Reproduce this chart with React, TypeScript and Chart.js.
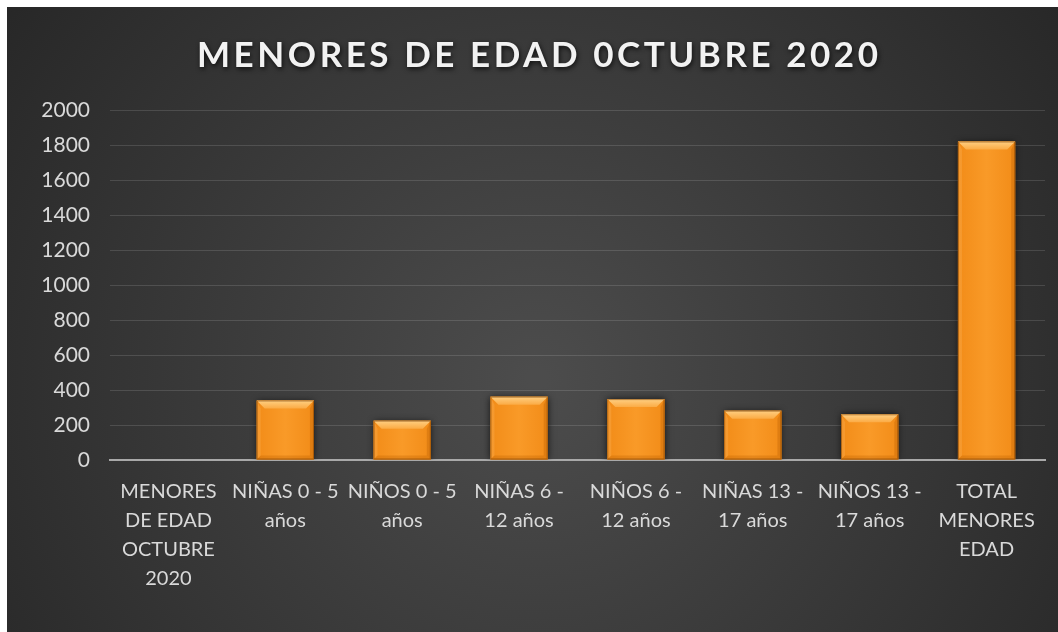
import React, { useEffect, useRef } from "react";
import { Chart, registerables } from "chart.js";

Chart.register(...registerables);

const TITLE = "MENORES DE EDAD 0CTUBRE 2020";

const categories: string[][] = [
  ["MENORES", "DE EDAD", "OCTUBRE", "2020"],
  ["NIÑAS 0 - 5", "años"],
  ["NIÑOS 0 - 5", "años"],
  ["NIÑAS 6 -", "12 años"],
  ["NIÑOS 6 -", "12 años"],
  ["NIÑAS 13 -", "17 años"],
  ["NIÑOS 13 -", "17 años"],
  ["TOTAL", "MENORES", "EDAD"],
];

const values: (number | null)[] = [null, 340, 225, 362, 348, 282, 261, 1820];

const yTicks = { min: 0, max: 2000, step: 200 };

const FONT = "Lato, 'Open Sans', sans-serif";

const bgPlugin = {
  id: "bgPlugin",
  beforeDraw(chart: any) {
    const { ctx, width, height } = chart;
    ctx.save();
    const g = ctx.createRadialGradient(
      width * 0.5,
      height * 0.58,
      10,
      width * 0.5,
      height * 0.58,
      width * 0.62
    );
    g.addColorStop(0, "#4c4c4c");
    g.addColorStop(1, "#272727");
    ctx.fillStyle = g;
    ctx.fillRect(0, 0, width, height);
    ctx.restore();
  },
};

const titlePlugin = {
  id: "titlePlugin",
  afterDraw(chart: any) {
    const { ctx } = chart;
    ctx.save();
    ctx.font = `bold 35px ${FONT}`;
    ctx.textBaseline = "alphabetic";
    ctx.textAlign = "left";
    (ctx as any).letterSpacing = "0px";
    const w0 = ctx.measureText(TITLE).width;
    const target = 681;
    const s = Math.max(0, (target - w0) / (TITLE.length - 1));
    (ctx as any).letterSpacing = `${s}px`;
    ctx.shadowColor = "rgba(0,0,0,0.75)";
    ctx.shadowBlur = 5;
    ctx.shadowOffsetX = 1;
    ctx.shadowOffsetY = 2;
    ctx.fillStyle = "#f2f2f2";
    ctx.fillText(TITLE, 530.5 - target / 2, 60);
    ctx.restore();
  },
};

const bevelPlugin = {
  id: "bevelPlugin",
  beforeDatasetsDraw(chart: any) {
    const ctx = chart.ctx;
    ctx.save();
    ctx.shadowColor = "rgba(0,0,0,0.7)";
    ctx.shadowBlur = 7;
    ctx.shadowOffsetX = 0;
    ctx.shadowOffsetY = 0;
  },
  afterDatasetsDraw(chart: any) {
    const ctx = chart.ctx;
    ctx.restore();
    const meta = chart.getDatasetMeta(0);
    meta.data.forEach((el: any) => {
      const p = el.getProps(["x", "y", "base", "width"], true);
      if (p.y == null || isNaN(p.y) || Math.abs(p.base - p.y) < 1) return;
      const l = p.x - p.width / 2;
      const r = p.x + p.width / 2;
      const t = Math.min(p.y, p.base);
      const b = Math.max(p.y, p.base);
      const bv = 8;
      ctx.save();
      const gb = ctx.createLinearGradient(l, 0, r, 0);
      gb.addColorStop(0, "#f28c18");
      gb.addColorStop(0.5, "#f99a28");
      gb.addColorStop(1, "#f28c18");
      ctx.fillStyle = gb;
      ctx.fillRect(l, t, r - l, b - t);
      const gt = ctx.createLinearGradient(0, t, 0, t + bv);
      gt.addColorStop(0, "#ffd083");
      gt.addColorStop(1, "#fbab45");
      ctx.fillStyle = gt;
      ctx.beginPath();
      ctx.moveTo(l, t);
      ctx.lineTo(r, t);
      ctx.lineTo(r - bv, t + bv);
      ctx.lineTo(l + bv, t + bv);
      ctx.closePath();
      ctx.fill();
      ctx.fillStyle = "rgba(255,190,110,0.25)";
      ctx.beginPath();
      ctx.moveTo(l, t);
      ctx.lineTo(l + bv * 0.5, t + bv);
      ctx.lineTo(l + bv * 0.5, b - bv * 0.5);
      ctx.lineTo(l, b);
      ctx.closePath();
      ctx.fill();
      ctx.fillStyle = "rgba(180,90,0,0.3)";
      ctx.beginPath();
      ctx.moveTo(r, t);
      ctx.lineTo(r - bv * 0.5, t + bv);
      ctx.lineTo(r - bv * 0.5, b - bv * 0.5);
      ctx.lineTo(r, b);
      ctx.closePath();
      ctx.fill();
      ctx.fillStyle = "rgba(190,95,0,0.3)";
      ctx.beginPath();
      ctx.moveTo(l, b);
      ctx.lineTo(l + bv * 0.5, b - bv * 0.5);
      ctx.lineTo(r - bv * 0.5, b - bv * 0.5);
      ctx.lineTo(r, b);
      ctx.closePath();
      ctx.fill();
      ctx.strokeStyle = "rgba(120,60,0,0.55)";
      ctx.lineWidth = 1;
      ctx.strokeRect(l + 0.5, t + 0.5, r - l - 1, b - t - 1);
      ctx.restore();
    });
  },
};

export default function App() {
  const ref = useRef<HTMLCanvasElement | null>(null);

  useEffect(() => {
    if (!ref.current) return;
    const chart = new Chart(ref.current, {
      type: "bar",
      data: {
        labels: categories,
        datasets: [
          {
            data: values,
            backgroundColor: "#f7931e",
            borderWidth: 0,
            barPercentage: 0.49,
            categoryPercentage: 1,
          },
        ],
      },
      options: {
        animation: false,
        responsive: true,
        maintainAspectRatio: false,
        layout: { padding: { top: 103, right: 22, left: 0, bottom: 0 } },
        plugins: {
          legend: { display: false },
          title: { display: false },
          tooltip: { enabled: false },
        },
        scales: {
          x: {
            grid: { display: false, drawTicks: false },
            border: { display: true, color: "#a9a9a9", width: 2 },
            ticks: {
              color: "#d9d9d9",
              font: { family: FONT, size: 20, lineHeight: 1.45 },
              padding: 17,
              maxRotation: 0,
              minRotation: 0,
              autoSkip: false,
            },
            afterFit(scale: any) {
              scale.height = 187;
            },
          },
          y: {
            min: yTicks.min,
            max: yTicks.max,
            grid: {
              color: "rgba(255,255,255,0.13)",
              lineWidth: 1,
              drawTicks: false,
            },
            border: { display: false },
            ticks: {
              stepSize: yTicks.step,
              color: "#d9d9d9",
              font: { family: FONT, size: 21 },
              padding: 20,
              callback: (v: any) => String(v),
            },
            afterFit(scale: any) {
              scale.width = 103;
            },
          },
        },
      },
      plugins: [bgPlugin, bevelPlugin, titlePlugin],
    });
    if ((document as any).fonts && (document as any).fonts.load) {
      Promise.all([
        (document as any).fonts.load(`bold 35px Lato`),
        (document as any).fonts.load(`20px Lato`),
      ])
        .then(() => chart.update())
        .catch(() => {});
    }
    return () => chart.destroy();
  }, []);

  return (
    <div
      style={{
        position: "fixed",
        left: 7,
        top: 7,
        width: 1060,
        height: 640,
      }}
    >
      <canvas ref={ref} />
    </div>
  );
}
